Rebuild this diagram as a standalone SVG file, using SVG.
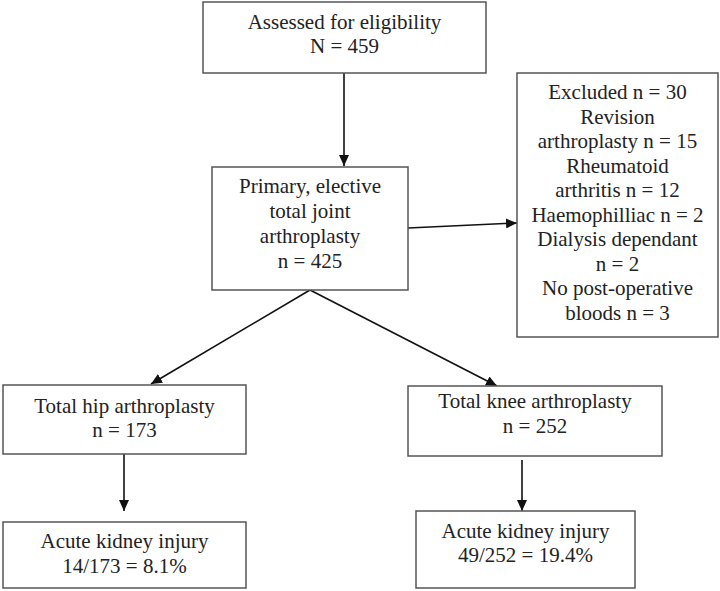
<svg xmlns="http://www.w3.org/2000/svg" width="720" height="591" viewBox="0 0 720 591">
<style>
.box{fill:#fff;stroke:#555;stroke-width:1.5}
.t{font-family:'Liberation Serif','Times New Roman','DejaVu Serif',serif;font-size:21px;fill:#222;text-anchor:middle}
.c{stroke:#111;stroke-width:1.6;fill:none;marker-end:url(#ah)}
</style>
<defs>
<marker id="ah" markerUnits="userSpaceOnUse" markerWidth="11" markerHeight="10" refX="11" refY="5" orient="auto">
<path d="M0,0 L11,5 L0,10 z" fill="#111"/>
</marker>
</defs>
<rect width="720" height="591" fill="#fff"/>
<g id="connectors">
<line class="c" x1="344" y1="73" x2="344" y2="166"/>
<line class="c" x1="408" y1="228" x2="517" y2="223"/>
<line class="c" x1="310" y1="290" x2="151" y2="384"/>
<line class="c" x1="310" y1="290" x2="497" y2="386"/>
<line class="c" x1="124" y1="454" x2="124" y2="511"/>
<line class="c" x1="522" y1="460" x2="522" y2="511"/>
</g>
<g id="assessed">
<rect class="box" x="203" y="2" width="283" height="71"/>
<text class="t" font-family="Liberation Serif, serif" x="344.5" y="29">Assessed for eligibility</text>
<text class="t" font-family="Liberation Serif, serif" x="344.5" y="53">N = 459</text>
</g>
<g id="primary">
<rect class="box" x="212" y="167" width="196" height="123"/>
<text class="t" x="310" y="193">Primary, elective</text>
<text class="t" x="310" y="218">total joint</text>
<text class="t" x="310" y="243">arthroplasty</text>
<text class="t" x="310" y="268">n = 425</text>
</g>
<g id="excluded">
<rect class="box" x="517" y="73" width="201" height="264"/>
<text class="t" x="617.5" y="99">Excluded n = 30</text>
<text class="t" x="617.5" y="123.5">Revision</text>
<text class="t" x="617.5" y="148">arthroplasty n = 15</text>
<text class="t" x="617.5" y="172.5">Rheumatoid</text>
<text class="t" x="617.5" y="197">arthritis n = 12</text>
<text class="t" x="617.5" y="221.5">Haemophilliac n = 2</text>
<text class="t" x="617.5" y="246">Dialysis dependant</text>
<text class="t" x="617.5" y="270.5">n = 2</text>
<text class="t" x="617.5" y="295">No post-operative</text>
<text class="t" x="617.5" y="319.5">bloods n = 3</text>
</g>
<g id="hip">
<rect class="box" x="3" y="385" width="243" height="69"/>
<text class="t" x="124.5" y="413">Total hip arthroplasty</text>
<text class="t" x="124.5" y="437">n = 173</text>
</g>
<g id="knee">
<rect class="box" x="408" y="386" width="254" height="70"/>
<text class="t" x="535" y="408">Total knee arthroplasty</text>
<text class="t" x="535" y="433">n = 252</text>
</g>
<g id="aki-hip">
<rect class="box" x="3" y="522" width="243" height="66"/>
<text class="t" x="124.5" y="548">Acute kidney injury</text>
<text class="t" x="124.5" y="573">14/173 = 8.1%</text>
</g>
<g id="aki-knee">
<rect class="box" x="416" y="511" width="219" height="77"/>
<text class="t" x="525.5" y="538">Acute kidney injury</text>
<text class="t" x="525.5" y="562">49/252 = 19.4%</text>
</g>
</svg>
